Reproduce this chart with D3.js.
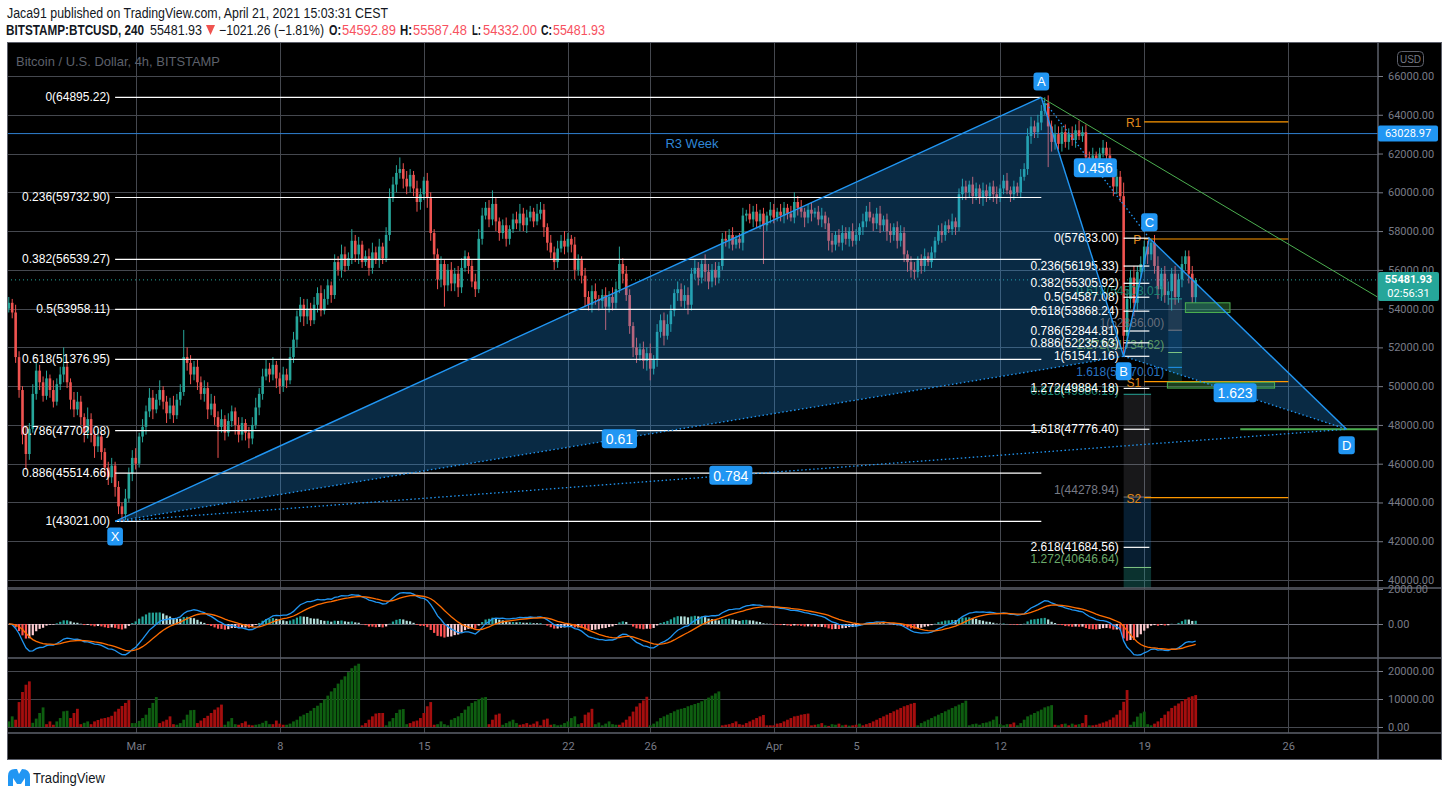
<!DOCTYPE html>
<html>
<head>
<meta charset="utf-8">
<title>BTCUSD 4h - XABCD</title>
<script src="https://cdn.jsdelivr.net/npm/d3@7"></script>
<style>
  body { margin: 0; background: #fff; }
  #chart { display: block; font-family: "Liberation Sans", Arial, sans-serif; }
  .axis text { fill: #787b86; font-family: Roboto, "Liberation Sans", sans-serif; font-size: 11px; }
  .axis line { stroke: #787b86; }
  .axis path { display: none; }
  .grid line { stroke: #45484f; stroke-width: 1; }
  .lvl { font-size: 12px; text-anchor: end; dominant-baseline: central; }
</style>
</head>
<body>
<svg id="chart" width="1449" height="797"></svg>
<script>
// ---------- data ----------
const firstCandle = Date.UTC(2021, 1, 22, 20);   // first 4h bar
const firstOpen = 54.0;
// closes, thousand USD
const closes = [
  54.3, 53.8, 51.5, 49.8, 47.5, 46.5, 47.8, 49.6, 50.8, 50.2,
  49.5, 50.4, 49.8, 49.2, 50.1, 50.6, 51.0, 50.2, 49.3, 48.8,
  49.2, 48.4, 47.6, 48.3, 47.5, 46.9, 47.4, 46.6, 45.8, 45.3,
  45.9, 44.8, 43.8, 43.4, 44.2, 45.5, 46.3, 46.0, 47.4, 47.9,
  48.7, 49.4, 48.8, 49.3, 49.8, 49.2, 48.6, 49.0, 48.5, 49.3,
  49.7, 51.5, 51.2, 50.6, 51.0, 50.2, 49.6, 49.9, 48.8, 49.1,
  48.4, 47.9, 48.3, 47.6, 48.2, 48.7, 48.0, 47.5, 48.1, 47.6,
  47.3, 48.0, 48.9, 49.6, 50.5, 50.9, 50.6, 51.1, 50.4, 50.0,
  50.6, 50.3, 51.5, 52.4, 53.6, 54.2, 53.6, 54.0, 53.4, 54.2,
  54.8, 53.9, 54.5, 55.2, 54.7, 56.4, 56.0, 56.8, 56.2, 56.6,
  57.5, 56.8, 57.3, 56.4, 56.7, 56.1, 56.9, 56.5, 57.2, 56.6,
  57.8, 59.7, 60.4, 61.0, 61.2, 60.7, 60.3, 60.9, 60.2, 59.5,
  59.9, 60.6, 59.7, 57.9, 56.8, 55.5, 56.3, 55.2, 56.0, 55.3,
  55.8, 55.1, 56.1, 56.7, 56.2, 55.4, 55.0, 57.6, 58.8, 59.2,
  58.6, 59.4, 58.5, 57.9, 58.3, 57.6, 58.1, 58.6, 58.4, 58.9,
  58.3, 58.7, 59.0, 58.5, 58.9, 59.1, 58.2, 57.4, 56.9, 56.4,
  57.1, 57.5, 57.2, 57.6, 57.3, 56.0, 56.5, 55.7, 54.6, 54.2,
  54.9, 54.5, 54.4, 54.7, 54.1, 54.6, 54.3, 55.0, 56.3, 55.8,
  54.7, 53.1, 52.0, 51.6, 51.9, 51.3, 51.7, 50.9, 51.4, 52.8,
  53.4, 52.6, 53.2, 53.9, 54.8, 55.0, 54.4, 54.7, 54.2, 55.8,
  56.1, 55.6, 56.3, 55.9, 55.4, 56.0, 55.6, 56.2, 57.6, 57.5,
  57.8, 57.3, 57.6, 57.4, 58.8, 58.9, 58.6, 59.0, 58.5, 58.9,
  58.3, 58.8, 59.1, 58.7, 59.0, 58.8, 59.2, 58.9, 58.7, 59.5,
  59.2, 59.0, 58.7, 59.1, 58.9, 59.0, 58.6, 58.8, 58.4, 57.5,
  57.3, 57.8, 57.4, 57.9, 57.6, 58.0, 57.5, 57.8, 58.2, 58.5,
  59.0, 58.7, 58.4, 58.9, 58.3, 58.6, 58.0, 57.8, 58.2, 57.5,
  57.9, 56.8, 56.4, 56.0, 55.9, 56.5, 56.2, 56.7, 56.4, 56.9,
  57.5, 58.0, 57.8, 58.3, 58.1, 58.5, 58.2, 59.9, 60.3, 60.0,
  60.4, 59.8, 60.2, 59.7, 60.1, 59.8, 60.3, 59.9, 59.7, 60.2,
  60.6, 60.1, 59.9, 60.3, 60.0, 60.8, 61.2, 62.9, 63.4, 63.1,
  63.6, 64.2, 64.6, 63.4, 62.6, 63.0, 62.5, 63.1, 62.6, 63.0,
  62.7, 63.2, 62.9, 63.1, 61.8, 61.6, 61.9, 61.6, 62.0, 62.3,
  61.9, 61.2, 60.3, 60.8, 59.8, 52.6, 54.5, 55.6, 54.3, 55.9,
  56.3, 57.2, 56.8, 57.4, 56.2, 55.0, 55.8, 54.7, 54.9, 55.8,
  54.6, 55.5, 56.3, 56.7, 55.8, 54.59, 55.48
];
// upper / lower shadows, hundred USD
const wickHi = [
  3,2,4,3,2,4,3,5,4,3, 3,4,2,5,3,4,10,3,2,4, 5,3,2,6,3,2,4,3,2,3, 4,2,3,2,5,3,4,5,2,4,
  3,5,4,3,5,2,3,4,5,3, 4,14,5,4,3,4,3,4,3,5, 4,3,5,2,4,3,2,4,3,2, 3,4,5,3,4,5,3,4,2,3,
  4,3,5,4,3,4,3,5,3,4, 3,4,5,3,2,4,3,5,4,3, 6,3,4,2,3,4,5,3,4,2, 4,5,4,4,6,3,4,3,2,4,
  3,2,4,3,2,3,4,2,3,4, 3,4,5,3,2,3,4,5,4,3, 4,7,3,2,3,4,2,3,4,5, 3,4,3,2,5,4,3,2,4,3,
  4,3,5,3,2,4,3,2,4,3, 3,4,2,3,4,3,5,4,9,3, 4,3,2,5,3,4,3,5,2,4, 3,4,5,3,2,4,3,5,4,3,
  4,3,2,5,4,3,4,2,3,4, 3,4,2,3,4,2,5,3,4,2, 3,2,4,3,2,4,3,2,4,5, 3,4,2,3,4,2,3,4,2,3,
  4,2,3,4,3,2,4,3,2,4, 3,5,2,3,4,2,3,4,2,3, 4,3,2,3,4,2,3,4,2,3, 2,3,4,2,3,4,2,3,4,3,
  2,4,3,2,4,3,2,3,4,2, 3,4,2,3,2,4,3,4,5,3, 4,3,3,4,3,5,4,3,4,3, 4,3,5,3,4,3,4,2,3,4,
  3,4,3,4,3,7,5,4,6,3, 4,3,3,2,4,5,3,4,5,3, 4,3,4,3,3,4,1
];
const wickLo = [
  2,3,3,4,5,8,3,2,3,4, 3,2,4,3,2,3,4,3,5,4, 3,4,5,3,4,6,3,4,5,4, 3,5,4,4,3,2,4,3,2,3,
  4,3,5,2,3,4,5,3,4,2, 3,2,4,5,3,4,3,4,5,3, 4,16,3,4,2,3,5,4,3,4, 5,3,2,4,3,2,4,3,5,4,
  3,4,2,3,4,3,5,4,3,2, 4,3,2,3,4,2,3,4,3,2, 3,4,5,3,2,4,3,2,4,3, 2,3,2,4,3,5,4,3,4,5,
  4,3,5,4,3,5,4,11,3,4, 4,5,3,2,4,3,4,2,3,2, 4,3,5,4,3,4,3,2,3,4, 3,4,2,3,2,3,5,4,3,4,
  3,2,4,3,4,5,3,4,5,3, 4,3,5,4,12,3,4,3,2,5, 3,4,5,4,3,4,5,6,3,4, 3,5,2,4,3,4,3,4,5,3,
  3,4,3,5,4,3,4,3,2,3, 4,3,2,3,4,3,2,4,3,4, 20,3,4,3,2,3,4,3,2,3, 4,3,5,3,4,2,3,4,3,5,
  4,3,2,4,3,4,3,2,3,4, 3,2,4,3,4,3,5,4,3,4, 3,4,5,4,4,3,4,3,2,3, 3,2,4,3,2,3,4,2,3,4,
  3,4,2,3,4,3,2,4,3,2, 3,2,4,3,2,3,2,3,4,3, 3,4,2,21,5,4,3,4,3,4, 3,4,2,3,5,4,3,4,3,2,
  4,3,5,4,3,11,6,5,7,4, 3,4,5,3,4,5,6,4,5,10, 4,3,4,3,5,3,3
];
// volume, thousands; negative = red bar
const volumes = [
  2.0, 3.8, -2.6, -8.9, -12.5, -15.1, -16.3, 1.5, 3.0, 5.0, 7.0, -1.0, -2.0, -0.8,
  2.0, 3.2, 5.6, 5.8, -3.2, -5.0, -6.5, -1.0, 1.5, 2.0,
  -1.0, -2.0, -2.5, -3.0, -3.2, -3.5, -4.0, -5.5, -6.5, -7.5, -8.6, -9.6,
  1.4, 1.4, 2.2, 3.2, 4.4, 6.8, 8.6, 10.7, -1.4, -2.0, -2.6, -3.8, -1.0,
  0.8, 1.4, 2.6, 4.4, 6.0, 6.1, -1.4, -2.3, -3.2, -4.0, -5.0, -6.2, -7.0, -8.0,
  0.8, 2.0, 3.2, 1.0, -0.8, -1.4, -2.0, -0.8, -0.6, 0.8, 1.0, 1.5, 2.2, 1.0,
  -1.0, -2.3, -1.2, -0.8,
  0.8, 1.2, 2.0, 2.6, 3.8, 4.4, 5.0, 5.8, 6.8, 7.6, 8.6, 9.8, 11.2, 12.7, 13.9,
  15.5, 16.9, 18.1, 19.6, 21.0, 21.9, 22.6,
  -0.6, -1.4, -2.6, -3.8, -4.8, -5.0, -5.0, 0.6, 2.0, 3.2, 5.0, 6.2, 6.4, 1.0,
  -1.4, -2.0, -2.3, -3.2, -5.0, -7.4, -8.9, -0.8,
  1.0, 2.0, 1.0, 0.6, 2.6, 3.2, 3.8, 5.0, 6.2, 7.4, 8.6, 9.2, 10.0, 10.5, 10.7,
  -1.0, -2.6, -4.4, -4.8, 0.8, 1.4, 2.0, 2.6, 1.4,
  -0.8, -1.0, -1.4, -0.8, -1.2, -2.0, -0.6, -2.6, -3.0, -0.8,
  1.0, 0.6, 0.8, 1.4, 2.0, 3.2, 3.8, 1.0, -1.4, -4.4, -5.2, -6.5,
  1.0, 1.6, 0.6, 1.2, 2.0, 1.0, 0.8,
  -0.8, -1.6, -2.6, -3.8, -5.5, -7.3, -8.5, -9.5, -10.8,
  0.6, 1.2, 2.0, 3.2, 3.8, 4.4, 5.0, 5.6, 6.2, 6.5, 6.8, 7.4, 7.8, 8.2, 8.6, 9.2,
  9.8, 10.5, 11.2, 12.0, 12.7,
  -0.6, -0.8, -1.0, -1.4, -2.0, -1.0, -0.8, -1.4, -2.0, -2.6, -3.2, -3.8, -4.3,
  -0.6, -0.6, -0.6, -1.2, -1.4, -2.0, -2.6, -3.2, -3.8, -4.0, -4.4, -4.6, -4.8, -0.6,
  -0.8, 1.0, -1.4, 0.6, -0.4, 1.0, 0.8, -1.2, 0.6, -0.8, 0.5, -0.6, -0.8, 1.2,
  -0.6, -1.0, -1.4, -2.0, -2.6, -3.2, -3.8, -4.4, -5.0, -5.6, -6.2, -6.8, -7.4,
  -7.8, -8.3, -8.6,
  0.6, 1.4, 2.0, 2.6, 3.2, 3.8, 4.4, 5.0, 5.6, 6.2, 6.8, 7.4, 8.0, 8.6, 9.4,
  0.6, 1.0, 1.2, 0.8, 1.4, 1.6, 2.0, 2.6, 3.8, 1.0, 0.6, 1.0,
  -1.0, -1.6, 0.6, 1.4, 2.6, 3.8, 4.4, 5.0, 5.6, 6.2, 7.0, 7.4, 7.8,
  -0.8, 0.6, -1.0, 1.2, -0.6, 1.2, -0.8, 1.0, -1.4, -4.3, 0.6,
  -0.6, -0.8, -1.2, -1.6, -2.0, -2.6, -3.4, -4.4, -6.0, -9.0, -13.2,
  0.8, 1.9, 3.7, 4.9, 5.5, 1.0, 0.6,
  -1.2, -2.0, -3.2, -4.4, -5.6, -6.8, -7.6, -8.4, -9.2, -10.0, -10.6, -11.0, -11.4
];

const priceTicks = d3.range(40000, 66001, 2000);
const dateTicks = [[2, 1], [2, 8], [2, 15], [2, 22], [2, 26], [3, 1], [3, 5], [3, 12], [3, 19], [3, 26]]
  .map(([m, d]) => new Date(Date.UTC(2021, m, d)));
const dateTickLabels = ["Mar", "8", "15", "22", "26", "Apr", "5", "12", "19", "26"];
const macdTicks = [2000, 0];
const volumeTicks = [20000, 10000, 0];

// X -> A fib retracement
const xaLevels = [0, 0.236, 0.382, 0.5, 0.618, 0.786, 0.886, 1];
const xaPrices = [64895.22, 59732.90, 56539.27, 53958.11, 51376.95, 47702.08, 45514.66, 43021.00];
// C -> B fib retracement / extension
const cbLevels = [0, 0.236, 0.382, 0.5, 0.618, 0.786, 0.886, 1, 1.272, 1.618, 2.618];
const cbPrices = [57633.00, 56195.33, 55305.92, 54587.08, 53868.24, 52844.81, 52235.63, 51541.16, 49884.18, 47776.40, 41684.56];
// two trend based extensions
const extALevels = [0.618, 1, 1.272, 1.618];
const extAPrices = [54503.01, 52886.00, 51734.62, 50970.01];
const extAFloor = 50200;
const extATimes = [Date.UTC(2021, 3, 20, 4), Date.UTC(2021, 3, 20, 20)];
const extBLevels = [0.618, 1, 1.272];
const extBPrices = [49580.19, 44278.94, 40646.64];
const extBFloor = 38000;
const extBTimes = [Date.UTC(2021, 3, 18), Date.UTC(2021, 3, 19, 8)];

// XABCD pattern
const patternNames = ["X", "A", "B", "C", "D"];
const patternTimes = [Date.UTC(2021, 1, 28), Date.UTC(2021, 3, 14), Date.UTC(2021, 3, 18),
                      Date.UTC(2021, 3, 19, 6), Date.UTC(2021, 3, 28, 20)];
const patternPrices = [43021.00, 64895.22, 51541.16, 57633.00, 47776.40];
const ratioPairs = [["X", "B"], ["X", "D"], ["A", "C"], ["B", "D"]];
const ratioLabels = ["0.61", "0.784", "0.456", "1.623"];

// weekly pivots
const pivotNames = ["R1", "P", "S1", "S2"];
const pivotPrices = [63630, 57590, 50230, 44250];
const pivotTimes = [Date.UTC(2021, 3, 19), Date.UTC(2021, 3, 26)];
const r3WeekPrice = 63028.97;
const lastPrice = 55481.93;

const trendTimes = [Date.UTC(2021, 3, 14), Date.UTC(2021, 3, 30, 8)];
const trendPrices = [64895.22, 54600];
const targetTimes = [Date.UTC(2021, 3, 23, 16), Date.UTC(2021, 4, 1)];
const zoneTimes = [[Date.UTC(2021, 3, 21), Date.UTC(2021, 3, 23, 4)],
                   [Date.UTC(2021, 3, 20, 3), Date.UTC(2021, 3, 25, 8)]];
const zonePrices = [[54300, 53800], [50200, 49900]];

// ---------- layout ----------
const L = 7, R = 1378, FR = 1442, TOP = 42;
const P_BOT = 588, M_TOP = 589, M_BOT = 657, V_TOP = 659, V_BOT = 733, BOT = 760;
const UP = "#26a69a", DOWN = "#ef5350", BLUE = "#2196f3", ORANGE = "#ff9800";

const x = d3.scaleUtc()
  .domain([new Date(Date.UTC(2021, 2, 1)), new Date(Date.UTC(2021, 3, 26))])
  .range([135.7, 1288.3]);
const y = d3.scaleLinear().domain([40000, 66000]).range([580, 76]);
const yMacd = d3.scaleLinear().domain([0, 2000]).range([624, 589]);
const yVol = d3.scaleLinear().domain([0, 20000]).range([727, 671]);

const H4 = 4 * 3600e3;
const times = closes.map((_, i) => new Date(firstCandle + i * H4));
const candles = closes.map((c, i) => {
  const o = i ? closes[i - 1] : firstOpen;
  return {
    t: times[i], o: o * 1000, c: c * 1000,
    h: (Math.max(o, c) + wickHi[i] / 10) * 1000,
    l: (Math.min(o, c) - wickLo[i] / 10) * 1000
  };
});

function ema(vals, n) {
  const k = 2 / (n + 1);
  let prev = vals[0];
  return vals.map((v, i) => (prev = i ? v * k + prev * (1 - k) : v));
}
const closeUsd = closes.map(c => c * 1000);
const e12 = ema(closeUsd, 12), e26 = ema(closeUsd, 26);
const macd = e12.map((v, i) => v - e26[i]);
const signal = ema(macd, 9);
const hist = macd.map((v, i) => v - signal[i]);

const svg = d3.select("#chart");
const defs = svg.append("defs");
function clip(id, x0, y0, w, h) {
  defs.append("clipPath").attr("id", id).append("rect")
    .attr("x", x0).attr("y", y0).attr("width", w).attr("height", h);
}
clip("cp-price", L, TOP, R - L, P_BOT - TOP);
clip("cp-macd", L, M_TOP, R - L, M_BOT - M_TOP);
clip("cp-vol", L, V_TOP, R - L, V_BOT - V_TOP);

// ---------- header ----------
const hdr = svg.append("g").attr("font-family", "'Liberation Sans Narrow', 'Liberation Sans', Arial, sans-serif")
  .attr("font-size", 14).attr("fill", "#131722");
hdr.append("text").attr("x", 7).attr("y", 18).attr("textLength", 381).attr("lengthAdjust", "spacingAndGlyphs")
  .text("Jaca91 published on TradingView.com, April 21, 2021 15:03:31 CEST");
const line2 = [
  ["BITSTAMP:BTCUSD, 240", 6, 138, "bold", "#131722"],
  ["55481.93", 150, 52, "normal", "#131722"],
  ["−1021.26 (−1.81%)", 219, 105, "normal", "#131722"],
  ["O:", 329, 12, "bold", "#131722"], ["54592.89", 342, 54, "normal", "#f7525f"],
  ["H:", 400, 12, "bold", "#131722"], ["55587.48", 413, 54, "normal", "#f7525f"],
  ["L:", 472, 9, "bold", "#131722"], ["54332.00", 483, 54, "normal", "#f7525f"],
  ["C:", 541, 11, "bold", "#131722"], ["55481.93", 553, 52, "normal", "#f7525f"]
];
line2.forEach(([t, xx, w, fw, col]) => {
  hdr.append("text").attr("x", xx).attr("y", 35).attr("textLength", w).attr("lengthAdjust", "spacingAndGlyphs")
    .attr("font-weight", fw).attr("fill", col).text(t);
});
// down arrow
hdr.append("path").attr("d", "M206,25 L215,25 L210.5,35 Z").attr("fill", DOWN);

// ---------- chart frame ----------
svg.append("rect").attr("x", L).attr("y", TOP).attr("width", FR - L).attr("height", BOT - TOP).attr("fill", "#000");

// gridlines
const grid = svg.append("g").attr("class", "grid");
grid.selectAll(".gy").data(priceTicks).join("line")
  .attr("x1", L).attr("x2", R).attr("y1", d => Math.round(y(d)) + 0.5).attr("y2", d => Math.round(y(d)) + 0.5);
grid.selectAll(".gm").data(macdTicks).join("line")
  .attr("x1", L).attr("x2", R).attr("y1", d => Math.round(yMacd(d)) + 0.5).attr("y2", d => Math.round(yMacd(d)) + 0.5)
  .style("stroke", d => d === 0 ? "#6a6d78" : null);
grid.selectAll(".gv").data(volumeTicks).join("line")
  .attr("x1", L).attr("x2", R).attr("y1", d => Math.round(yVol(d)) + 0.5).attr("y2", d => Math.round(yVol(d)) + 0.5);
grid.selectAll(".gx").data(dateTicks).join("line")
  .attr("x1", d => Math.round(x(d)) + 0.5).attr("x2", d => Math.round(x(d)) + 0.5).attr("y1", TOP).attr("y2", V_BOT);

// ---------- price pane ----------
const pp = svg.append("g").attr("clip-path", "url(#cp-price)");
svg.append("text").attr("x", 16).attr("y", 61).attr("dominant-baseline", "central")
  .attr("font-size", 13).attr("fill", "#5d606b").attr("textLength", 204).attr("lengthAdjust", "spacingAndGlyphs")
  .text("Bitcoin / U.S. Dollar, 4h, BITSTAMP");

// current price (dotted) and weekly R3
pp.append("line").attr("x1", L).attr("x2", R).attr("y1", y(lastPrice)).attr("y2", y(lastPrice))
  .attr("stroke", UP).attr("stroke-dasharray", "1,3");
pp.append("line").attr("x1", L).attr("x2", R).attr("y1", y(r3WeekPrice)).attr("y2", y(r3WeekPrice))
  .attr("stroke", "#2f7fd0").attr("stroke-width", 1);
pp.append("text").attr("x", 692).attr("y", y(r3WeekPrice) + 10).attr("text-anchor", "middle")
  .attr("dominant-baseline", "central").attr("font-size", 13).attr("fill", "#2f86d6").text("R3 Week");

// candles
const cg = pp.append("g");
cg.selectAll("line").data(candles).join("line")
  .attr("x1", d => x(d.t)).attr("x2", d => x(d.t)).attr("y1", d => y(d.h)).attr("y2", d => y(d.l))
  .attr("stroke", d => d.c >= d.o ? UP : DOWN).attr("stroke-width", 1);
cg.selectAll("rect").data(candles).join("rect")
  .attr("x", d => x(d.t) - 1.3).attr("width", 2.6)
  .attr("y", d => y(Math.max(d.o, d.c))).attr("height", d => Math.max(1, Math.abs(y(d.o) - y(d.c))))
  .attr("fill", d => d.c >= d.o ? UP : DOWN);

// pattern geometry
const pt = {};
patternNames.forEach((n, i) => pt[n] = [x(new Date(patternTimes[i])), y(patternPrices[i])]);
const tri = (a, b, c) => `M${pt[a]}L${pt[b]}L${pt[c]}Z`;
pp.append("path").attr("d", tri("X", "A", "B")).attr("fill", BLUE).attr("fill-opacity", 0.28);
pp.append("path").attr("d", tri("B", "C", "D")).attr("fill", BLUE).attr("fill-opacity", 0.28);

// X->A fib lines
const xaX0 = pt.X[0], xaX1 = pt.A[0];
pp.selectAll(".xa").data(xaPrices).join("line")
  .attr("x1", xaX0).attr("x2", xaX1).attr("y1", d => y(d)).attr("y2", d => y(d))
  .attr("stroke", "#fff").attr("stroke-width", 1.2);
pp.selectAll(".xat").data(xaPrices).join("text").attr("class", "lvl")
  .attr("x", xaX0 - 5).attr("y", d => y(d)).attr("fill", "#fff")
  .text((d, i) => `${xaLevels[i]}(${d.toFixed(2)})`);

// trend-based extensions (shaded columns)
function extColumn(times, prices, floor, shades) {
  const x0 = x(new Date(times[0])), x1 = x(new Date(times[1]));
  const edges = prices.concat([floor]);
  shades.forEach((s, i) => {
    if (i + 1 >= edges.length) return;
    pp.append("rect").attr("x", x0).attr("width", x1 - x0)
      .attr("y", y(edges[i])).attr("height", y(edges[i + 1]) - y(edges[i])).attr("fill", s);
  });
  return [x0, x1];
}
const lvlColor = { 0.618: "#26a69a", 1: "#787b86", 1.272: "#81c784", 1.618: BLUE };
const lvlText = { 0.618: "#1f8f7a", 1: "#787b86", 1.272: "#6aaa6a", 1.618: "#2f88e0" };
const shades = ["rgba(150,150,160,0.16)", "rgba(33,150,243,0.16)", "rgba(38,166,154,0.22)", "rgba(38,166,154,0.22)"];
const [eaX0, eaX1] = extColumn(extATimes, extAPrices, extAFloor, shades);
const [ebX0, ebX1] = extColumn(extBTimes, extBPrices, extBFloor, ["rgba(200,200,210,0.12)", "rgba(33,150,243,0.2)", "rgba(38,166,154,0.3)"]);
extAPrices.forEach((p, i) => {
  pp.append("line").attr("x1", eaX0).attr("x2", eaX1).attr("y1", y(p)).attr("y2", y(p))
    .attr("stroke", lvlColor[extALevels[i]]);
});
extBPrices.forEach((p, i) => {
  pp.append("line").attr("x1", ebX0).attr("x2", ebX1).attr("y1", y(p)).attr("y2", y(p))
    .attr("stroke", lvlColor[extBLevels[i]]);
});
const extADy = [-8, -7, -8, 5];
extAPrices.forEach((p, i) => {
  pp.append("text").attr("class", "lvl").attr("x", eaX0 - 4).attr("y", y(p) + extADy[i])
    .attr("fill", lvlText[extALevels[i]]).attr("opacity", 0.85).text(`${extALevels[i]}(${p.toFixed(2)})`);
});
const extBDy = [-3, -7, -8];
extBPrices.forEach((p, i) => {
  pp.append("text").attr("class", "lvl").attr("x", ebX0 - 5).attr("y", y(p) + extBDy[i])
    .attr("fill", lvlText[extBLevels[i]]).text(`${extBLevels[i]}(${p.toFixed(2)})`);
});

// weekly pivots
const pvX0 = x(new Date(pivotTimes[0])), pvX1 = x(new Date(pivotTimes[1]));
pivotPrices.forEach((p, i) => {
  pp.append("line").attr("x1", pvX0).attr("x2", pvX1).attr("y1", y(p)).attr("y2", y(p))
    .attr("stroke", ORANGE).attr("stroke-width", 1.2);
  pp.append("text").attr("class", "lvl").attr("x", pvX0 - 3).attr("y", y(p) + 1)
    .attr("fill", "#e08a1c").text(pivotNames[i]);
});

// C->B fib lines
const cbX0 = pt.B[0], cbX1 = pt.C[0];
pp.selectAll(".cb").data(cbPrices).join("line")
  .attr("x1", cbX0).attr("x2", cbX1).attr("y1", d => y(d)).attr("y2", d => y(d))
  .attr("stroke", "#fff").attr("stroke-width", 1.2);
pp.selectAll(".cbt").data(cbPrices).join("text").attr("class", "lvl")
  .attr("x", cbX0 - 5).attr("y", d => y(d)).attr("fill", "#fff")
  .text((d, i) => `${cbLevels[i]}(${d.toFixed(2)})`);

// green zones, trend line and target line
zoneTimes.forEach((t, i) => {
  const x0 = x(new Date(t[0])), x1 = x(new Date(t[1]));
  pp.append("rect").attr("x", x0).attr("width", x1 - x0)
    .attr("y", y(zonePrices[i][0])).attr("height", y(zonePrices[i][1]) - y(zonePrices[i][0]))
    .attr("fill", "rgba(76,175,80,0.35)").attr("stroke", "#4caf50").attr("stroke-width", 1);
});
pp.append("line")
  .attr("x1", x(new Date(trendTimes[0]))).attr("y1", y(trendPrices[0]))
  .attr("x2", x(new Date(trendTimes[1]))).attr("y2", y(trendPrices[1]))
  .attr("stroke", "#4caf50").attr("stroke-width", 1);
pp.append("line")
  .attr("x1", x(new Date(targetTimes[0]))).attr("x2", x(new Date(targetTimes[1])))
  .attr("y1", y(patternPrices[4])).attr("y2", y(patternPrices[4]))
  .attr("stroke", "#4caf50").attr("stroke-width", 2);

// pattern lines
[["X", "A"], ["A", "B"], ["B", "C"], ["C", "D"]].forEach(([a, b]) => {
  pp.append("line").attr("x1", pt[a][0]).attr("y1", pt[a][1]).attr("x2", pt[b][0]).attr("y2", pt[b][1])
    .attr("stroke", BLUE).attr("stroke-width", 1.4);
});
ratioPairs.forEach(([a, b]) => {
  pp.append("line").attr("x1", pt[a][0]).attr("y1", pt[a][1]).attr("x2", pt[b][0]).attr("y2", pt[b][1])
    .attr("stroke", BLUE).attr("stroke-width", 1.3).attr("stroke-dasharray", "1.5,2.5");
});

function badge(cx, cy, text, size, padX, h) {
  const g = pp.append("g");
  const r = g.append("rect").attr("rx", 3).attr("fill", BLUE);
  const t = g.append("text").attr("x", cx).attr("y", cy + 0.5).attr("text-anchor", "middle")
    .attr("dominant-baseline", "central").attr("font-size", size).attr("fill", "#fff").text(text);
  const w = t.node().getComputedTextLength() + padX * 2;
  r.attr("x", cx - w / 2).attr("y", cy - h / 2).attr("width", w).attr("height", h);
}
ratioPairs.forEach(([a, b], i) => {
  badge((pt[a][0] + pt[b][0]) / 2, (pt[a][1] + pt[b][1]) / 2, ratioLabels[i], 14, 4, 19);
});
const badgeDy = { X: 15, A: -16, B: 15, C: -16, D: 16 };
patternNames.forEach(n => badge(pt[n][0], pt[n][1] + badgeDy[n], n, 13, 3.5, 18));

// ---------- MACD pane ----------
const mp = svg.append("g").attr("clip-path", "url(#cp-macd)");
mp.selectAll("rect").data(hist).join("rect")
  .attr("x", (d, i) => x(times[i]) - 1.1).attr("width", 2.2)
  .attr("y", d => Math.min(yMacd(d), yMacd(0))).attr("height", d => Math.abs(yMacd(d) - yMacd(0)))
  .attr("fill", (d, i) => {
    const prev = i ? hist[i - 1] : d;
    if (d >= 0) return d >= prev ? "#26a69a" : "#b2dfdb";
    return d < prev ? "#ff5252" : "#ffcdd2";
  });
const mline = d3.line().x((d, i) => x(times[i])).y(d => yMacd(d));
mp.append("path").attr("d", mline(macd)).attr("fill", "none").attr("stroke", BLUE).attr("stroke-width", 1.3);
mp.append("path").attr("d", mline(signal)).attr("fill", "none").attr("stroke", "#ff6d00").attr("stroke-width", 1.3);

// ---------- volume pane ----------
const vp = svg.append("g").attr("clip-path", "url(#cp-vol)");
vp.selectAll("rect").data(volumes).join("rect")
  .attr("x", (d, i) => x(times[i]) - 1.4).attr("width", 2.8)
  .attr("y", d => yVol(Math.abs(d) * 1000)).attr("height", d => yVol(0) - yVol(Math.abs(d) * 1000))
  .attr("fill", d => d >= 0 ? "#0e5e10" : "#a50e0e");

// ---------- separators and axes ----------
const sep = svg.append("g").attr("stroke", "#5d606b").attr("stroke-width", 1.5);
[P_BOT, M_BOT + 1, V_BOT].forEach(yy => sep.append("line").attr("x1", L).attr("x2", FR).attr("y1", yy).attr("y2", yy));
sep.append("line").attr("x1", R).attr("x2", R).attr("y1", TOP).attr("y2", BOT);
svg.append("rect").attr("x", L + 0.5).attr("y", TOP + 0.5).attr("width", FR - L - 1).attr("height", BOT - TOP - 1)
  .attr("fill", "none").attr("stroke", "#5d606b");

const fmt = d3.format(".2f");
svg.append("g").attr("class", "axis").attr("transform", `translate(${R},0)`)
  .call(d3.axisRight(y).tickValues(priceTicks).tickSize(5).tickPadding(5).tickFormat(fmt));
svg.append("g").attr("class", "axis").attr("transform", `translate(${R},0)`)
  .call(d3.axisRight(yMacd).tickValues(macdTicks).tickSize(5).tickPadding(5).tickFormat(fmt));
svg.append("g").attr("class", "axis").attr("transform", `translate(${R},0)`)
  .call(d3.axisRight(yVol).tickValues(volumeTicks).tickSize(5).tickPadding(5).tickFormat(fmt));
svg.append("g").attr("class", "axis").attr("transform", `translate(0,${V_BOT})`)
  .call(d3.axisBottom(x).tickValues(dateTicks).tickSize(0).tickPadding(9)
    .tickFormat((d, i) => dateTickLabels[i]));

// USD badge
svg.append("rect").attr("x", 1397.5).attr("y", 51.5).attr("width", 26).attr("height", 15).attr("rx", 4)
  .attr("fill", "none").attr("stroke", "#5d606b");
svg.append("text").attr("x", 1410.5).attr("y", 59.5).attr("text-anchor", "middle").attr("dominant-baseline", "central")
  .attr("font-size", 10).attr("fill", "#787b86").text("USD");

// price labels on the scale
svg.append("rect").attr("x", R).attr("y", y(r3WeekPrice) - 8).attr("width", 60).attr("height", 16).attr("rx", 2).attr("fill", BLUE);
svg.append("text").attr("x", R + 30).attr("y", y(r3WeekPrice)).attr("text-anchor", "middle").attr("dominant-baseline", "central")
  .attr("font-family", "Roboto, sans-serif").attr("font-size", 11).attr("fill", "#fff").text(fmt(r3WeekPrice));
svg.append("rect").attr("x", R).attr("y", y(lastPrice) - 8).attr("width", 61).attr("height", 29).attr("rx", 2).attr("fill", "#26a69a");
svg.append("text").attr("x", R + 30.5).attr("y", y(lastPrice)).attr("text-anchor", "middle").attr("dominant-baseline", "central")
  .attr("font-family", "Roboto, sans-serif").attr("font-size", 11).attr("font-weight", "bold").attr("fill", "#fff").text(fmt(lastPrice));
svg.append("text").attr("x", R + 30.5).attr("y", y(lastPrice) + 14).attr("text-anchor", "middle").attr("dominant-baseline", "central")
  .attr("font-family", "Roboto, sans-serif").attr("font-size", 11).attr("fill", "#fff").text("02:56:31");

// ---------- footer ----------
svg.append("path").attr("d", "M8,786 L8,776 Q8,769 15,769 L17,769 L19,774 L22,769 Q30,769 30,777 L30,786 L25,786 L25,778 L21,784 L17,784 L13,778 L13,786 Z")
  .attr("fill", BLUE);
svg.append("text").attr("x", 33).attr("y", 783).attr("font-family", "'Liberation Sans Narrow', 'Liberation Sans', sans-serif")
  .attr("font-size", 14).attr("fill", "#131722").attr("textLength", 72).attr("lengthAdjust", "spacingAndGlyphs").text("TradingView");
</script>
</body>
</html>
